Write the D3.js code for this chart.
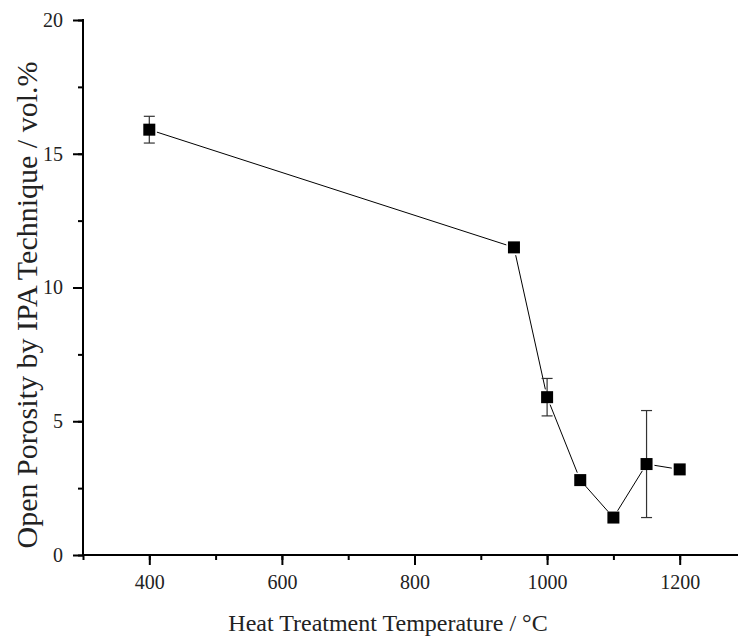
<!DOCTYPE html>
<html>
<head>
<meta charset="utf-8">
<script src="https://cdn.jsdelivr.net/npm/d3@7"></script>
<style>
  html, body { margin: 0; padding: 0; background: #fff; }
  svg { display: block; }
  text { font-family: "Liberation Serif", "DejaVu Serif", serif; fill: #222; }
</style>
</head>
<body>
<svg id="chart" width="738" height="636"></svg>
<script>
// Heat treatment temperature (°C)
const temperatures = [400, 950, 1000, 1050, 1100, 1150, 1200];
// Open porosity measured by IPA technique (vol.%)
const porosity = [15.9, 11.5, 5.9, 2.8, 1.4, 3.4, 3.2];
// Error (± vol.%)
const porosityErr = [0.5, 0, 0.7, 0, 0, 2.0, 0];

const xTicks = [400, 600, 800, 1000, 1200];
const yTicks = [0, 5, 10, 15, 20];

(function () {
  const svg = d3.select("#chart");
  const W = 738, H = 636;
  const mLeft = 83, mBottom = 555, mTop = 20, mRight = 746;
  const serif = "'Liberation Serif', 'DejaVu Serif', serif";

  const x = d3.scaleLinear().domain([300, 1300]).range([mLeft, mRight]);
  const y = d3.scaleLinear().domain([0, 20]).range([mBottom, mTop]);

  svg.append("defs").append("clipPath").attr("id", "clip")
    .append("rect").attr("x", 0).attr("y", 0).attr("width", W).attr("height", H);

  const g = svg.append("g").attr("clip-path", "url(#clip)");

  // X axis: minor + major ticks
  const xAxis = g.append("g").attr("transform", `translate(0,${mBottom})`);
  xAxis.append("g").call(d3.axisBottom(x).tickValues(d3.range(300, 1301, 100)).tickSize(5).tickFormat(""))
    .call(a => a.select(".domain").remove());
  xAxis.append("g").call(d3.axisBottom(x).tickValues(xTicks).tickSize(10).tickPadding(10).tickFormat(d3.format("d")))
    .call(a => a.select(".domain").remove());
  xAxis.append("line").attr("x1", mLeft - 1).attr("x2", mRight).attr("y1", 0).attr("y2", 0)
    .attr("stroke", "#000").attr("stroke-width", 2);
  xAxis.selectAll("g").attr("font-family", serif);
  xAxis.selectAll(".tick line").attr("stroke", "#000").attr("stroke-width", 2);
  xAxis.selectAll(".tick text").style("font-size", "20px").style("font-family", serif).attr("fill", "#222");

  // Y axis
  const yAxis = g.append("g").attr("transform", `translate(${mLeft},0)`);
  yAxis.append("g").call(d3.axisLeft(y).tickValues(d3.range(0, 20.01, 2.5)).tickSize(5).tickFormat(""))
    .call(a => a.select(".domain").remove());
  yAxis.append("g").call(d3.axisLeft(y).tickValues(yTicks).tickSize(10).tickPadding(10).tickFormat(d3.format("d")))
    .call(a => a.select(".domain").remove());
  yAxis.append("line").attr("x1", 0).attr("x2", 0).attr("y1", mTop - 1).attr("y2", mBottom + 1)
    .attr("stroke", "#000").attr("stroke-width", 2);
  yAxis.selectAll("g").attr("font-family", serif);
  yAxis.selectAll(".tick line").attr("stroke", "#000").attr("stroke-width", 2);
  yAxis.selectAll(".tick text").style("font-size", "20px").style("font-family", serif).attr("fill", "#222");

  const pts = temperatures.map((t, i) => ({ t, v: porosity[i], e: porosityErr[i] }));

  // Connecting line segments with a gap around each marker
  const gap = 8;
  for (let i = 0; i < pts.length - 1; i++) {
    const x0 = x(pts[i].t), y0 = y(pts[i].v), x1 = x(pts[i + 1].t), y1 = y(pts[i + 1].v);
    const len = Math.hypot(x1 - x0, y1 - y0);
    const ux = (x1 - x0) / len, uy = (y1 - y0) / len;
    g.append("line")
      .attr("x1", x0 + ux * gap).attr("y1", y0 + uy * gap)
      .attr("x2", x1 - ux * gap).attr("y2", y1 - uy * gap)
      .attr("stroke", "#000").attr("stroke-width", 1);
  }

  // Error bars
  const cap = 5.5;
  pts.filter(d => d.e > 0).forEach(d => {
    const cx = x(d.t);
    const eb = g.append("g").attr("stroke", "#333").attr("stroke-width", 1.2);
    eb.append("line").attr("x1", cx).attr("x2", cx).attr("y1", y(d.v + d.e)).attr("y2", y(d.v - d.e));
    eb.append("line").attr("x1", cx - cap).attr("x2", cx + cap).attr("y1", y(d.v + d.e)).attr("y2", y(d.v + d.e));
    eb.append("line").attr("x1", cx - cap).attr("x2", cx + cap).attr("y1", y(d.v - d.e)).attr("y2", y(d.v - d.e));
  });

  // Square markers
  const ms = 12;
  g.selectAll("rect.pt").data(pts).enter().append("rect")
    .attr("class", "pt")
    .attr("x", d => x(d.t) - ms / 2).attr("y", d => y(d.v) - ms / 2)
    .attr("width", ms).attr("height", ms).attr("fill", "#000");

  // Axis titles
  svg.append("text")
    .attr("x", 388).attr("y", 631)
    .attr("text-anchor", "middle").style("font-size", "24px").style("font-family", serif)
    .text("Heat Treatment Temperature / °C");

  svg.append("text")
    .attr("transform", "translate(37,305) rotate(-90)")
    .attr("text-anchor", "middle").style("font-size", "30px").style("font-family", serif)
    .text("Open Porosity by IPA Technique / vol.%");
})();
</script>
</body>
</html>
